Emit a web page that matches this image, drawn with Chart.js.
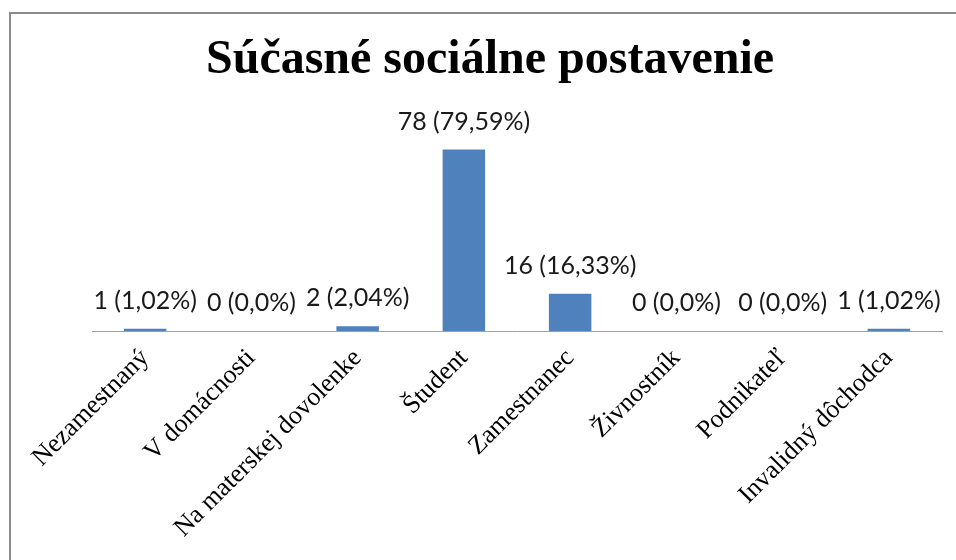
<!DOCTYPE html>
<html>
<head>
<meta charset="utf-8">
<title>Súčasné sociálne postavenie</title>
<script src="https://cdn.jsdelivr.net/npm/chart.js@4.4.1/dist/chart.umd.min.js"></script>
<style>
    html, body { margin: 0; padding: 0; background: #fff; overflow: hidden; }
    #frame {
        position: absolute;
        left: 9px;
        top: 12px;
        width: 958px;
        height: 560px;
        border: 2px solid #8c8c8c;
    }
    #chart-wrap { position: relative; width: 958px; height: 546px; }
</style>
</head>
<body>
<div id="frame">
    <div id="chart-wrap"><canvas id="statusChart"></canvas></div>
</div>
<script>
(function(){
    "use strict";

    // Data
    const categories = ['Nezamestnaný', 'V domácnosti', 'Na materskej dovolenke', 'Študent',
                        'Zamestnanec', 'Živnostník', 'Podnikateľ', 'Invalidný dôchodca'];
    const counts = [1, 0, 2, 78, 16, 0, 0, 1];
    const percents = ['1,02', '0,0', '2,04', '79,59', '16,33', '0,0', '0,0', '1,02'];
    const yTicks = [0, 90]; // hidden axis range

    /**
     * Writes "count (percent%)" above every bar.
    */
    const barLabels = {
        id: 'barLabels',
        afterDatasetsDraw(chart) {
            const ctx = chart.ctx;
            const meta = chart.getDatasetMeta(0);
            ctx.save();
            ctx.font = '25px Lato';
            ctx.fillStyle = '#1a1a1a';
            ctx.textAlign = 'center';
            ctx.textBaseline = 'alphabetic';
            meta.data.forEach((bar, i) => {
                ctx.fillText(`${counts[i]} (${percents[i]}%)`, bar.x, bar.y - 20);
            });
            ctx.restore();
        }
    };

    function createChart() {
        const ctx = document.getElementById('statusChart').getContext('2d');
        return new Chart(ctx, {
            type: 'bar',
            data: {
                labels: categories,
                datasets: [{
                    data: counts,
                    backgroundColor: '#4f81bd',
                    borderWidth: 0,
                    barPercentage: 0.4,
                    categoryPercentage: 1
                }]
            },
            options: {
                responsive: true,
                maintainAspectRatio: false,
                animation: false,
                layout: { padding: 0 },
                scales: {
                    x: {
                        grid: { display: false },
                        border: { display: true, color: '#a0a0a0', width: 1 },
                        ticks: {
                            color: '#000',
                            font: { family: 'Liberation Serif', size: 26 },
                            minRotation: 45,
                            maxRotation: 45,
                            autoSkip: false,
                            padding: 4
                        },
                        afterFit: (scale) => { scale.height = 229; }
                    },
                    y: {
                        min: yTicks[0],
                        max: yTicks[1],
                        grid: { display: false },
                        border: { display: false },
                        ticks: { display: false },
                        afterFit: (scale) => { scale.width = 81; }
                    },
                    y2: {
                        type: 'linear',
                        position: 'right',
                        grid: { display: false },
                        border: { display: false },
                        ticks: { display: false },
                        afterFit: (scale) => { scale.width = 27; }
                    }
                },
                plugins: {
                    legend: { display: false },
                    tooltip: { enabled: false },
                    title: {
                        display: true,
                        text: 'Súčasné sociálne postavenie',
                        color: '#000',
                        font: { family: 'Liberation Serif', size: 48, weight: 'bold' },
                        padding: { top: 18, bottom: 32 }
                    }
                }
            },
            plugins: [barLabels]
        });
    }

    createChart();
})();
</script>
</body>
</html>
